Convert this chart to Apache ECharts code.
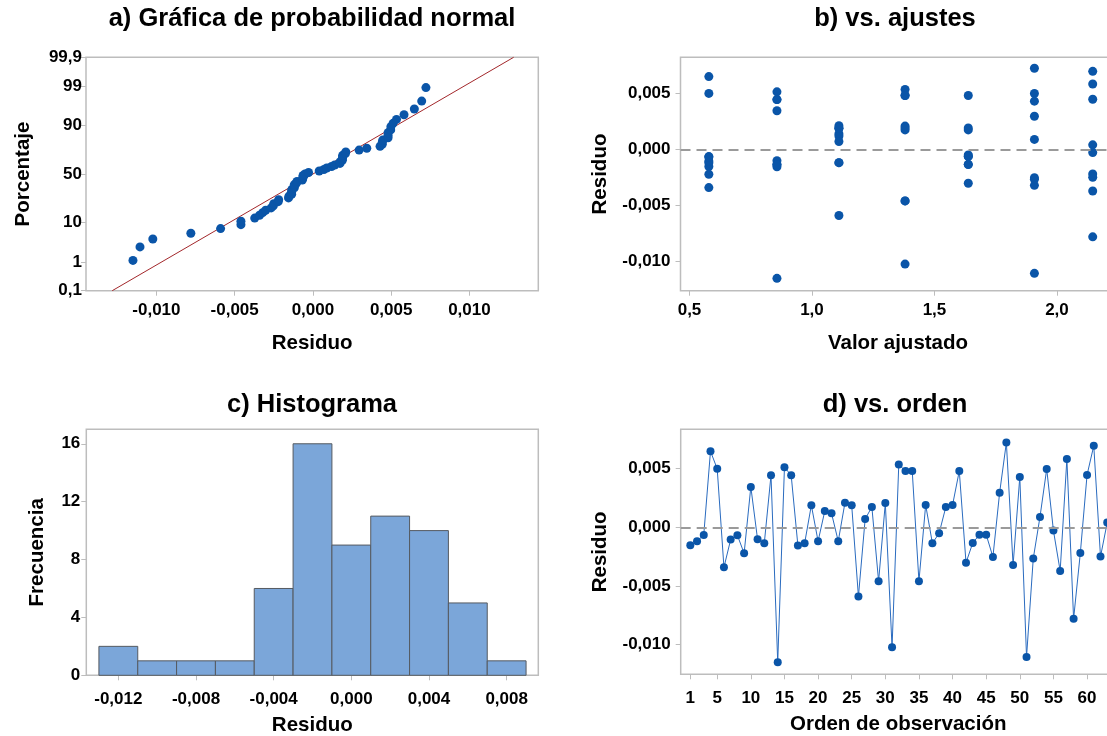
<!DOCTYPE html>
<html>
<head>
<meta charset="utf-8">
<script src="https://cdn.jsdelivr.net/npm/echarts@6/dist/echarts.min.js"></script>
<style>
html,body{margin:0;padding:0;background:#fff;}
#chart{width:1107px;height:736px;}
</style>
</head>
<body>
<div id="chart"></div>
<script>
// ---------------- DATA ----------------
// Residuals in observation order (1..63)
const residuals = [
  -0.00153, -0.00119, -0.00065, 0.00648, 0.00498, -0.00341, -0.00105, -0.00068, -0.00222,
  0.00344, -0.00102, -0.00136, 0.00443, -0.01150, 0.00512, 0.00443, -0.00156, -0.00136,
  0.00188, -0.00119, 0.00139, 0.00119, -0.00119, 0.00210, 0.00188, -0.00590, 0.00070,
  0.00173, -0.00460, 0.00207, -0.01023, 0.00534, 0.00480, 0.00480, -0.00460, 0.00190,
  -0.00136, -0.00051, 0.00173, 0.00190, 0.00480, -0.00302, -0.00134, -0.00063, -0.00063,
  -0.00253, 0.00295, 0.00722, -0.00321, 0.00429, -0.01105, -0.00267, 0.00088, 0.00497,
  -0.00028, -0.00372, 0.00582, -0.00780, -0.00219, 0.00446, 0.00695, -0.00250, 0.00040
];
// Fitted values for each observation
const fitted = [
  0.579, 0.579, 0.579, 0.579, 0.579, 0.579, 0.579, 0.579, 0.579,
  0.857, 0.857, 0.857, 0.857, 0.857, 0.857, 0.857, 0.857, 0.857,
  1.110, 1.110, 1.110, 1.110, 1.110, 1.110, 1.110, 1.110, 1.110,
  1.380, 1.380, 1.380, 1.380, 1.380, 1.380, 1.380, 1.380, 1.380,
  1.638, 1.638, 1.638, 1.638, 1.638, 1.638, 1.638, 1.638, 1.638,
  1.908, 1.908, 1.908, 1.908, 1.908, 1.908, 1.908, 1.908, 1.908,
  2.146, 2.146, 2.146, 2.146, 2.146, 2.146, 2.146, 2.146, 2.146
];
// Histogram bins (start, end) and counts
const binStarts = [-0.013, -0.011, -0.009, -0.007, -0.005, -0.003, -0.001, 0.001, 0.003, 0.005, 0.007];
const binEnds   = [-0.011, -0.009, -0.007, -0.005, -0.003, -0.001, 0.001, 0.003, 0.005, 0.007, 0.009];
const binCounts = [2, 1, 1, 1, 6, 16, 9, 11, 10, 5, 1];
// Normal probability plot reference line (mean, sigma)
const lineMean = 0.0;
const lineSigma = 0.00415;
const lineEndPercents = [0.1, 99.9];
// Tick labels
const pctTicks = [0.1, 1, 10, 50, 90, 99, 99.9];
const pctLabels = ['0,1', '1', '10', '50', '90', '99', '99,9'];
const residTicksA = [-0.010, -0.005, 0.000, 0.005, 0.010];
const residTicksBD = [-0.010, -0.005, 0.000, 0.005];
const fitTicks = [0.5, 1.0, 1.5, 2.0];
const histXTicks = [-0.012, -0.008, -0.004, 0.000, 0.004, 0.008];
const orderTicks = [1, 5, 10, 15, 20, 25, 30, 35, 40, 45, 50, 55, 60];

// Titles
const titles = ['a) Gráfica de probabilidad normal', 'b) vs. ajustes', 'c) Histograma', 'd) vs. orden'];

// ---------------- HELPERS ----------------
function normInv(p) {
  // Acklam's algorithm
  const a = [-3.969683028665376e+01, 2.209460984245205e+02, -2.759285104469687e+02, 1.383577518672690e+02, -3.066479806614716e+01, 2.506628277459239e+00];
  const b = [-5.447609879822406e+01, 1.615858368580409e+02, -1.556989798598866e+02, 6.680131188771972e+01, -1.328068155288572e+01];
  const c = [-7.784894002430293e-03, -3.223964580411365e-01, -2.400758277161838e+00, -2.549732539343734e+00, 4.374664141464968e+00, 2.938163982698783e+00];
  const d = [7.784695709041462e-03, 3.224671290700398e-01, 2.445134137142996e+00, 3.754408661907416e+00];
  const pl = 0.02425, ph = 1 - pl;
  let q, r;
  if (p < pl) {
    q = Math.sqrt(-2 * Math.log(p));
    return (((((c[0]*q+c[1])*q+c[2])*q+c[3])*q+c[4])*q+c[5]) / ((((d[0]*q+d[1])*q+d[2])*q+d[3])*q+1);
  } else if (p <= ph) {
    q = p - 0.5; r = q * q;
    return (((((a[0]*r+a[1])*r+a[2])*r+a[3])*r+a[4])*r+a[5])*q / (((((b[0]*r+b[1])*r+b[2])*r+b[3])*r+b[4])*r+1);
  } else {
    q = Math.sqrt(-2 * Math.log(1 - p));
    return -(((((c[0]*q+c[1])*q+c[2])*q+c[3])*q+c[4])*q+c[5]) / ((((d[0]*q+d[1])*q+d[2])*q+d[3])*q+1);
  }
}
function fmt(v, dec) {
  if (Math.abs(v) < 1e-12) v = 0;
  return v.toFixed(dec).replace('.', ',');
}

const n = residuals.length;
const sorted = residuals.slice().sort((x, y) => x - y);
const probData = sorted.map((v, i) => [v, normInv((i + 1 - 0.3) / (n + 0.4))]);
const zTicks = pctTicks.map(p => normInv(p / 100));
const zMin = zTicks[0], zMax = zTicks[zTicks.length - 1];
const lineData = lineEndPercents.map(p => {
  const z = normInv(p / 100);
  return [lineMean + z * lineSigma, z];
});
const fitData = residuals.map((r, i) => [fitted[i], r]);
const orderData = residuals.map((r, i) => [i + 1, r]);
const histData = binCounts.map((c, i) => [binStarts[i], binEnds[i], c]);

// ---------------- STYLE ----------------
const FONT = 'Liberation Sans, Arial, sans-serif';
const BORDER = '#bdbdbd';
const PT = '#0a55a8';
const tickLabel = { color: '#000', fontFamily: FONT, fontWeight: 'bold', fontSize: 17 };
const axisName = { color: '#000', fontFamily: FONT, fontWeight: 'bold', fontSize: 20.5 };

function xAx(gi, min, max, ticks, dec, name, gap, margin) {
  return {
    type: 'value', gridIndex: gi, min: min, max: max,
    axisLine: { show: false, onZero: false },
    splitLine: { show: false },
    axisTick: { show: true, customValues: ticks, length: 5, lineStyle: { color: BORDER, width: 1 } },
    axisLabel: Object.assign({ customValues: ticks, margin: margin, formatter: v => fmt(v, dec) }, tickLabel),
    name: name, nameLocation: 'middle', nameGap: gap, nameTextStyle: axisName
  };
}
function yAx(gi, min, max, ticks, fmtFn, name, gap, margin, extra) {
  return Object.assign({
    type: 'value', gridIndex: gi, min: min, max: max,
    axisLine: { show: false, onZero: false },
    splitLine: { show: false },
    axisTick: { show: true, customValues: ticks, length: 5, lineStyle: { color: BORDER, width: 1 } },
    axisLabel: Object.assign({ customValues: ticks, margin: margin, formatter: fmtFn }, tickLabel),
    name: name, nameLocation: 'middle', nameGap: gap, nameTextStyle: axisName
  }, extra || {});
}

const gridCommon = {
  show: true, borderColor: BORDER, borderWidth: 1.5, backgroundColor: 'transparent',
  containLabel: false, outerBoundsMode: 'none'
};

const zeroLine = {
  silent: true, symbol: 'none', label: { show: false },
  lineStyle: { color: '#9a9a9a', type: [10, 6], width: 2 },
  data: [{ yAxis: 0 }]
};

function titleText(i, x, y) {
  return { type: 'text', x: x, y: y, style: { text: titles[i], fill: '#000', font: 'bold 25.5px ' + FONT, textAlign: 'center', textVerticalAlign: 'middle' } };
}

const option = {
  backgroundColor: '#fff',
  animation: false,
  graphic: [
    titleText(0, 312, 19),
    titleText(1, 895, 19),
    titleText(2, 312, 405),
    titleText(3, 895, 405)
  ],
  grid: [
    Object.assign({ left: 86, top: 57.3, width: 452.3, height: 233.4 }, gridCommon),
    Object.assign({ left: 680.5, top: 57.3, width: 435, height: 233.4 }, gridCommon),
    Object.assign({ left: 86.3, top: 429.3, width: 452, height: 246 }, gridCommon),
    Object.assign({ left: 680.7, top: 429.3, width: 435, height: 245 }, gridCommon)
  ],
  xAxis: [
    xAx(0, -0.0145, 0.0144, residTicksA, 3, 'Residuo', 42, 11),
    xAx(1, 0.4633, 2.239, fitTicks, 1, 'Valor ajustado', 42, 11),
    xAx(2, -0.01365, 0.00963, histXTicks, 3, 'Residuo', 40, 16),
    xAx(3, -0.43, 64.26, orderTicks, 0, 'Orden de observación', 40, 16)
  ],
  yAxis: [
    yAx(0, zMin, zMax, zTicks, v => {
      let bi = 0, bd = Infinity;
      zTicks.forEach((z, i) => { const dd = Math.abs(z - v); if (dd < bd) { bd = dd; bi = i; } });
      return pctLabels[bi];
    }, 'Porcentaje', 52, 4),
    yAx(1, -0.0126, 0.0082, residTicksBD, v => fmt(v, 3), 'Residuo', 70, 10),
    yAx(2, 0, 17, null, v => String(v), 'Frecuencia', 38, 6, {
      interval: 4,
      axisTick: { show: true, length: 5, lineStyle: { color: BORDER, width: 1 } },
      axisLabel: Object.assign({ margin: 6, formatter: v => String(v) }, tickLabel)
    }),
    yAx(3, -0.01253, 0.00835, residTicksBD, v => fmt(v, 3), 'Residuo', 70, 10)
  ],
  series: [
    {
      type: 'line', xAxisIndex: 0, yAxisIndex: 0, data: lineData, symbol: 'none',
      lineStyle: { color: '#a3272b', width: 1 }, silent: true, clip: false, z: 2
    },
    {
      type: 'scatter', xAxisIndex: 0, yAxisIndex: 0, data: probData, symbolSize: 9,
      itemStyle: { color: PT, opacity: 1 }, z: 3
    },
    {
      type: 'scatter', xAxisIndex: 1, yAxisIndex: 1, data: fitData, symbolSize: 9,
      itemStyle: { color: PT, opacity: 1 }, markLine: zeroLine, z: 3
    },
    {
      type: 'custom', xAxisIndex: 2, yAxisIndex: 2, data: histData,
      renderItem: function (params, api) {
        const p0 = api.coord([api.value(0), 0]);
        const p1 = api.coord([api.value(1), api.value(2)]);
        return {
          type: 'rect',
          shape: { x: p0[0], y: p1[1], width: p1[0] - p0[0], height: p0[1] - p1[1] },
          style: { fill: '#7ba6d9', stroke: '#555a60', lineWidth: 1 }
        };
      },
      encode: { x: [0, 1], y: 2 }
    },
    {
      type: 'line', xAxisIndex: 3, yAxisIndex: 3, data: orderData, symbol: 'circle', symbolSize: 8,
      lineStyle: { color: '#2a6bbf', width: 1 }, itemStyle: { color: PT, opacity: 1 }, markLine: zeroLine, z: 3
    }
  ]
};

const chart = echarts.init(document.getElementById('chart'), null, { renderer: 'canvas' });
chart.setOption(option);
</script>
</body>
</html>
